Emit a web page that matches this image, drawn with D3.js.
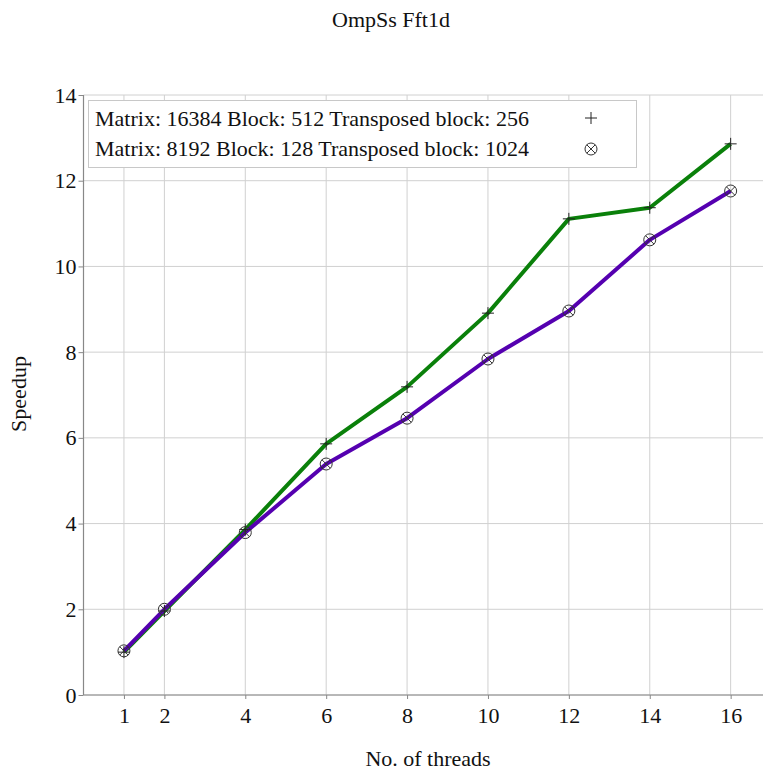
<!DOCTYPE html>
<html>
<head>
<meta charset="utf-8">
<script src="https://cdn.jsdelivr.net/npm/d3@7/dist/d3.min.js"></script>
<style>
  body { margin: 0; background: #fff; }
  svg { display: block; }
  text { font-family: "Liberation Serif", "DejaVu Serif", serif; fill: #111; }
</style>
</head>
<body>
<script>
// Thread counts and measured speedups for the two fft1d configurations
const threads = [1, 2, 4, 6, 8, 10, 12, 14, 16];
const speedupLarge = [1.0, 1.96, 3.86, 5.86, 7.19, 8.91, 11.11, 11.37, 12.86];
const speedupSmall = [1.03, 2.0, 3.79, 5.39, 6.46, 7.84, 8.96, 10.62, 11.76];
const seriesNames = [
  "Matrix: 16384 Block: 512 Transposed block: 256",
  "Matrix: 8192 Block: 128 Transposed block: 1024"
];
const xTicks = [1, 2, 4, 6, 8, 10, 12, 14, 16];
const yTicks = [0, 2, 4, 6, 8, 10, 12, 14];

const W = 764, H = 772;
const plotL = 83.5, plotR = 763, plotT = 95, plotB = 695;
const FS = "22px";

const svg = d3.select("body").append("svg").attr("width", W).attr("height", H);

const x = d3.scaleLinear().domain([0, 16.8]).range([plotL, plotR]);
const y = d3.scaleLinear().domain([0, 14]).range([plotB, plotT]);

// grid
const grid = svg.append("g").attr("stroke", "#d0d0d0").attr("stroke-width", 1);
xTicks.forEach(t => grid.append("line")
  .attr("x1", x(t)).attr("x2", x(t)).attr("y1", plotB).attr("y2", plotT));
yTicks.forEach(t => grid.append("line")
  .attr("x1", plotL).attr("x2", plotR).attr("y1", y(t)).attr("y2", y(t)));

// axes
const xAxis = svg.append("g").attr("transform", `translate(0,${plotB})`)
  .call(d3.axisBottom(x).tickValues(xTicks).tickSize(4).tickPadding(8).tickFormat(d3.format("d")));
const yAxis = svg.append("g").attr("transform", `translate(${plotL},0)`)
  .call(d3.axisLeft(y).tickValues(yTicks).tickSize(5).tickPadding(2).tickFormat(d3.format("d")));
[xAxis, yAxis].forEach(a => {
  a.select(".domain").attr("stroke", "#888").attr("stroke-width", 1.2);
  a.selectAll(".tick line").attr("stroke", "#888");
  a.selectAll(".tick text").style("font-family", "Liberation Serif, serif")
    .style("font-size", FS).attr("fill", "#111");
});
// the axis paths include outer ticks; drop them so only the spine remains
xAxis.select(".domain").attr("d", `M${plotL},0H${plotR}`);
yAxis.select(".domain").attr("d", `M0,${plotB}V${plotT}`);

const line = d3.line().x((d, i) => x(threads[i])).y(d => y(d));

// series 1: green with plus markers
svg.append("path").datum(speedupLarge).attr("d", line)
  .attr("fill", "none").attr("stroke", "#0a800a").attr("stroke-width", 4)
  .attr("stroke-linejoin", "round");
// series 2: purple with circled-cross markers
svg.append("path").datum(speedupSmall).attr("d", line)
  .attr("fill", "none").attr("stroke", "#5500b0").attr("stroke-width", 4)
  .attr("stroke-linejoin", "round");

function plus(g, cx, cy) {
  g.append("path").attr("d", `M${cx - 6},${cy}H${cx + 6}M${cx},${cy - 6}V${cy + 6}`)
    .attr("stroke", "#222").attr("stroke-width", 1).attr("fill", "none");
}
function otimes(g, cx, cy) {
  const r = 6, k = r * Math.SQRT1_2;
  g.append("circle").attr("cx", cx).attr("cy", cy).attr("r", r)
    .attr("fill", "none").attr("stroke", "#333").attr("stroke-width", 1);
  g.append("path").attr("d", `M${cx - k},${cy - k}L${cx + k},${cy + k}M${cx - k},${cy + k}L${cx + k},${cy - k}`)
    .attr("stroke", "#333").attr("stroke-width", 1);
}

const marks = svg.append("g");
speedupLarge.forEach((v, i) => plus(marks, x(threads[i]), y(v)));
speedupSmall.forEach((v, i) => otimes(marks, x(threads[i]), y(v)));

// legend
const leg = svg.append("g");
leg.append("rect").attr("x", 88.5).attr("y", 100.5).attr("width", 548).attr("height", 67)
  .attr("fill", "#fff").attr("stroke", "#c8c8c8").attr("stroke-width", 1);
leg.append("text").attr("x", 95).attr("y", 126).style("font-size", FS).text(seriesNames[0]);
leg.append("text").attr("x", 95).attr("y", 156).style("font-size", FS).text(seriesNames[1]);
plus(leg, 591, 118);
otimes(leg, 591, 149);

// titles
svg.append("text").attr("x", 391).attr("y", 27).attr("text-anchor", "middle")
  .style("font-size", FS).text("OmpSs Fft1d");
svg.append("text").attr("x", 428).attr("y", 766).attr("text-anchor", "middle")
  .style("font-size", FS).text("No. of threads");
svg.append("text").attr("transform", "translate(26,394) rotate(-90)").attr("text-anchor", "middle")
  .style("font-size", FS).text("Speedup");
</script>
</body>
</html>
